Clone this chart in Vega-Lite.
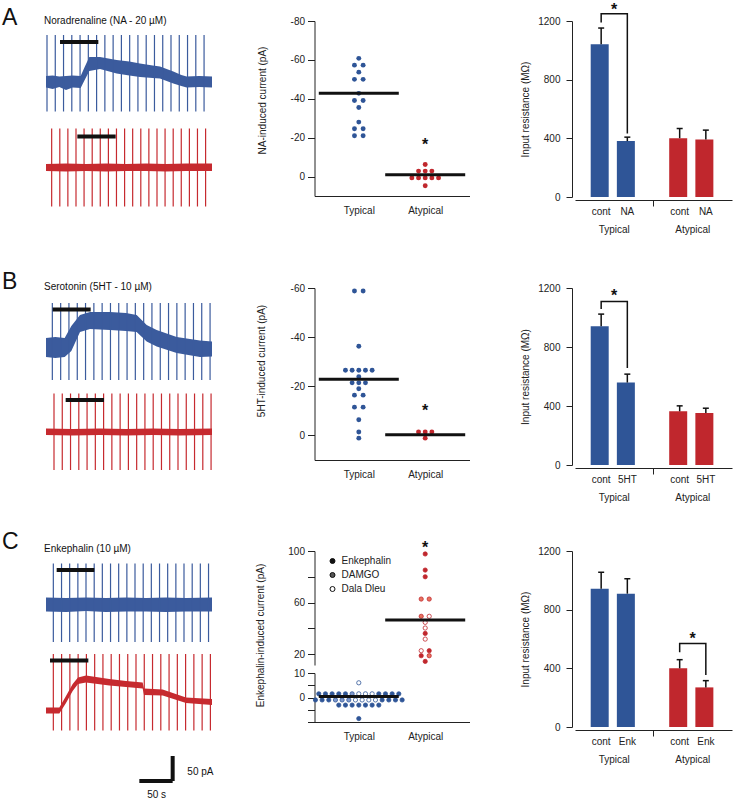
{
"$schema": "https://vega.github.io/schema/vega-lite/v6.json",
"autosize": {"type": "pad"},
"padding": {"left": 2, "top": 2, "right": 2, "bottom": 0},
"config": {
  "font": "Liberation Sans",
  "view": {"stroke": null},
  "axis": {"labelFont": "Liberation Sans", "titleFont": "Liberation Sans", "labelFontSize": 10, "titleFontSize": 10, "titleFontWeight": "normal", "labelColor": "#222", "titleColor": "#222", "domainColor": "#222", "tickColor": "#222", "grid": false},
  "title": {"font": "Liberation Sans", "fontWeight": "normal", "color": "#111"},
  "legend": {"labelFont": "Liberation Sans", "labelFontSize": 10, "labelColor": "#222"}
},
"datasets": {
  "bands": [
    {"tr":"A1","t":0,"hi":8,"lo":-15},{"tr":"A1","t":10,"hi":9,"lo":-18},{"tr":"A1","t":20,"hi":7,"lo":-14},{"tr":"A1","t":30,"hi":8,"lo":-20},{"tr":"A1","t":40,"hi":9,"lo":-15},{"tr":"A1","t":52,"hi":8,"lo":-16},{"tr":"A1","t":58,"hi":26,"lo":0},{"tr":"A1","t":65,"hi":46,"lo":18},{"tr":"A1","t":81,"hi":46,"lo":22},{"tr":"A1","t":106,"hi":40,"lo":13},{"tr":"A1","t":125,"hi":37,"lo":9},{"tr":"A1","t":141,"hi":33,"lo":6},{"tr":"A1","t":160,"hi":29,"lo":4},{"tr":"A1","t":171,"hi":27,"lo":3},{"tr":"A1","t":191,"hi":17,"lo":-7},{"tr":"A1","t":203,"hi":10,"lo":-12},{"tr":"A1","t":211,"hi":7,"lo":-15},{"tr":"A1","t":230,"hi":8,"lo":-14},{"tr":"A1","t":249,"hi":7,"lo":-15},
    {"tr":"A2","t":0,"hi":6,"lo":-8},{"tr":"A2","t":30,"hi":7,"lo":-9},{"tr":"A2","t":60,"hi":6,"lo":-8},{"tr":"A2","t":90,"hi":7,"lo":-9},{"tr":"A2","t":120,"hi":6,"lo":-8},{"tr":"A2","t":150,"hi":7,"lo":-8},{"tr":"A2","t":180,"hi":6,"lo":-9},{"tr":"A2","t":210,"hi":7,"lo":-8},{"tr":"A2","t":249,"hi":7,"lo":-8},
    {"tr":"B1","t":0,"hi":20,"lo":-18},{"tr":"B1","t":14,"hi":22,"lo":-20},{"tr":"B1","t":28,"hi":20,"lo":-18},{"tr":"B1","t":38,"hi":44,"lo":-6},{"tr":"B1","t":51,"hi":66,"lo":32},{"tr":"B1","t":66,"hi":72,"lo":38},{"tr":"B1","t":96,"hi":72,"lo":36},{"tr":"B1","t":120,"hi":70,"lo":34},{"tr":"B1","t":136,"hi":66,"lo":32},{"tr":"B1","t":151,"hi":46,"lo":13},{"tr":"B1","t":166,"hi":36,"lo":3},{"tr":"B1","t":196,"hi":22,"lo":-10},{"tr":"B1","t":231,"hi":15,"lo":-18},{"tr":"B1","t":249,"hi":13,"lo":-17},
    {"tr":"B2","t":0,"hi":7,"lo":-6},{"tr":"B2","t":40,"hi":6,"lo":-7},{"tr":"B2","t":80,"hi":7,"lo":-6},{"tr":"B2","t":120,"hi":6,"lo":-7},{"tr":"B2","t":160,"hi":7,"lo":-6},{"tr":"B2","t":200,"hi":6,"lo":-7},{"tr":"B2","t":249,"hi":7,"lo":-6},
    {"tr":"C1","t":0,"hi":14,"lo":-14},{"tr":"C1","t":30,"hi":13,"lo":-15},{"tr":"C1","t":60,"hi":14,"lo":-13},{"tr":"C1","t":90,"hi":13,"lo":-15},{"tr":"C1","t":120,"hi":14,"lo":-14},{"tr":"C1","t":150,"hi":13,"lo":-14},{"tr":"C1","t":180,"hi":14,"lo":-15},{"tr":"C1","t":210,"hi":13,"lo":-14},{"tr":"C1","t":249,"hi":14,"lo":-14},
    {"tr":"C2","t":0,"hi":5,"lo":-7},{"tr":"C2","t":20,"hi":5,"lo":-7},{"tr":"C2","t":30,"hi":28,"lo":14},{"tr":"C2","t":40,"hi":52,"lo":38},{"tr":"C2","t":48,"hi":65,"lo":52},{"tr":"C2","t":60,"hi":69,"lo":55},{"tr":"C2","t":95,"hi":62,"lo":49},{"tr":"C2","t":120,"hi":58,"lo":46},{"tr":"C2","t":145,"hi":55,"lo":43},{"tr":"C2","t":147,"hi":43,"lo":30},{"tr":"C2","t":175,"hi":41,"lo":29},{"tr":"C2","t":210,"hi":25,"lo":14},{"tr":"C2","t":249,"hi":22,"lo":10}
  ],
  "spikes": [
    {"tr":"A1","t":1.5,"hi":90,"lo":-63},{"tr":"A1","t":13.9,"hi":90,"lo":-63},{"tr":"A1","t":26.3,"hi":90,"lo":-63},{"tr":"A1","t":38.7,"hi":90,"lo":-63},{"tr":"A1","t":51.1,"hi":90,"lo":-63},{"tr":"A1","t":63.5,"hi":90,"lo":-63},{"tr":"A1","t":75.9,"hi":90,"lo":-63},{"tr":"A1","t":88.3,"hi":90,"lo":-63},{"tr":"A1","t":100.7,"hi":90,"lo":-63},{"tr":"A1","t":113.1,"hi":90,"lo":-63},{"tr":"A1","t":125.5,"hi":90,"lo":-63},{"tr":"A1","t":137.9,"hi":90,"lo":-63},{"tr":"A1","t":150.3,"hi":90,"lo":-63},{"tr":"A1","t":162.7,"hi":90,"lo":-63},{"tr":"A1","t":175.1,"hi":90,"lo":-63},{"tr":"A1","t":187.5,"hi":90,"lo":-63},{"tr":"A1","t":199.9,"hi":90,"lo":-63},{"tr":"A1","t":212.3,"hi":90,"lo":-63},{"tr":"A1","t":224.7,"hi":90,"lo":-63},{"tr":"A1","t":237.1,"hi":90,"lo":-63},
    {"tr":"A2","t":8.5,"hi":77,"lo":-79},{"tr":"A2","t":20.7,"hi":77,"lo":-79},{"tr":"A2","t":32.8,"hi":77,"lo":-79},{"tr":"A2","t":45,"hi":77,"lo":-79},{"tr":"A2","t":57.1,"hi":77,"lo":-79},{"tr":"A2","t":69.3,"hi":77,"lo":-79},{"tr":"A2","t":81.4,"hi":77,"lo":-79},{"tr":"A2","t":93.6,"hi":77,"lo":-79},{"tr":"A2","t":105.7,"hi":77,"lo":-79},{"tr":"A2","t":117.9,"hi":77,"lo":-79},{"tr":"A2","t":130,"hi":77,"lo":-79},{"tr":"A2","t":142.2,"hi":77,"lo":-79},{"tr":"A2","t":154.3,"hi":77,"lo":-79},{"tr":"A2","t":166.5,"hi":77,"lo":-79},{"tr":"A2","t":178.6,"hi":77,"lo":-79},{"tr":"A2","t":190.8,"hi":77,"lo":-79},{"tr":"A2","t":202.9,"hi":77,"lo":-79},{"tr":"A2","t":215.1,"hi":77,"lo":-79},{"tr":"A2","t":227.2,"hi":77,"lo":-79},{"tr":"A2","t":239.4,"hi":77,"lo":-79},
    {"tr":"B1","t":9.5,"hi":90,"lo":-64},{"tr":"B1","t":22,"hi":90,"lo":-64},{"tr":"B1","t":34.4,"hi":90,"lo":-64},{"tr":"B1","t":46.9,"hi":90,"lo":-64},{"tr":"B1","t":59.3,"hi":90,"lo":-64},{"tr":"B1","t":71.8,"hi":90,"lo":-64},{"tr":"B1","t":84.2,"hi":90,"lo":-64},{"tr":"B1","t":96.7,"hi":90,"lo":-64},{"tr":"B1","t":109.1,"hi":90,"lo":-64},{"tr":"B1","t":121.6,"hi":90,"lo":-64},{"tr":"B1","t":134,"hi":90,"lo":-64},{"tr":"B1","t":146.5,"hi":90,"lo":-64},{"tr":"B1","t":158.9,"hi":90,"lo":-64},{"tr":"B1","t":171.4,"hi":90,"lo":-64},{"tr":"B1","t":183.8,"hi":90,"lo":-64},{"tr":"B1","t":196.3,"hi":90,"lo":-64},{"tr":"B1","t":208.7,"hi":90,"lo":-64},{"tr":"B1","t":221.2,"hi":90,"lo":-64},{"tr":"B1","t":233.6,"hi":90,"lo":-64},{"tr":"B1","t":246.1,"hi":90,"lo":-64},
    {"tr":"B2","t":12,"hi":77,"lo":-76},{"tr":"B2","t":24.4,"hi":77,"lo":-76},{"tr":"B2","t":36.8,"hi":77,"lo":-76},{"tr":"B2","t":49.2,"hi":77,"lo":-76},{"tr":"B2","t":61.6,"hi":77,"lo":-76},{"tr":"B2","t":74,"hi":77,"lo":-76},{"tr":"B2","t":86.4,"hi":77,"lo":-76},{"tr":"B2","t":98.8,"hi":77,"lo":-76},{"tr":"B2","t":111.2,"hi":77,"lo":-76},{"tr":"B2","t":123.6,"hi":77,"lo":-76},{"tr":"B2","t":136,"hi":77,"lo":-76},{"tr":"B2","t":148.4,"hi":77,"lo":-76},{"tr":"B2","t":160.8,"hi":77,"lo":-76},{"tr":"B2","t":173.2,"hi":77,"lo":-76},{"tr":"B2","t":185.6,"hi":77,"lo":-76},{"tr":"B2","t":198,"hi":77,"lo":-76},{"tr":"B2","t":210.4,"hi":77,"lo":-76},{"tr":"B2","t":222.8,"hi":77,"lo":-76},{"tr":"B2","t":235.2,"hi":77,"lo":-76},{"tr":"B2","t":247.6,"hi":77,"lo":-76},
    {"tr":"C1","t":11,"hi":82,"lo":-75},{"tr":"C1","t":23.3,"hi":82,"lo":-75},{"tr":"C1","t":35.5,"hi":82,"lo":-75},{"tr":"C1","t":47.8,"hi":82,"lo":-75},{"tr":"C1","t":60,"hi":82,"lo":-75},{"tr":"C1","t":72.3,"hi":82,"lo":-75},{"tr":"C1","t":84.5,"hi":82,"lo":-75},{"tr":"C1","t":96.8,"hi":82,"lo":-75},{"tr":"C1","t":109,"hi":82,"lo":-75},{"tr":"C1","t":121.3,"hi":82,"lo":-75},{"tr":"C1","t":133.5,"hi":82,"lo":-75},{"tr":"C1","t":145.8,"hi":82,"lo":-75},{"tr":"C1","t":158,"hi":82,"lo":-75},{"tr":"C1","t":170.3,"hi":82,"lo":-75},{"tr":"C1","t":182.5,"hi":82,"lo":-75},{"tr":"C1","t":194.8,"hi":82,"lo":-75},{"tr":"C1","t":207,"hi":82,"lo":-75},{"tr":"C1","t":219.3,"hi":82,"lo":-75},{"tr":"C1","t":231.5,"hi":82,"lo":-75},{"tr":"C1","t":243.8,"hi":82,"lo":-75},
    {"tr":"C2","t":11,"hi":112,"lo":-41},{"tr":"C2","t":23.4,"hi":112,"lo":-41},{"tr":"C2","t":35.8,"hi":112,"lo":-41},{"tr":"C2","t":48.2,"hi":112,"lo":-41},{"tr":"C2","t":60.6,"hi":112,"lo":-41},{"tr":"C2","t":73,"hi":112,"lo":-41},{"tr":"C2","t":85.4,"hi":112,"lo":-41},{"tr":"C2","t":97.8,"hi":112,"lo":-41},{"tr":"C2","t":110.2,"hi":112,"lo":-41},{"tr":"C2","t":122.6,"hi":112,"lo":-41},{"tr":"C2","t":135,"hi":112,"lo":-41},{"tr":"C2","t":147.4,"hi":112,"lo":-41},{"tr":"C2","t":159.8,"hi":112,"lo":-41},{"tr":"C2","t":172.2,"hi":112,"lo":-41},{"tr":"C2","t":184.6,"hi":112,"lo":-41},{"tr":"C2","t":197,"hi":112,"lo":-41},{"tr":"C2","t":209.4,"hi":112,"lo":-41},{"tr":"C2","t":221.8,"hi":112,"lo":-41},{"tr":"C2","t":234.2,"hi":112,"lo":-41},{"tr":"C2","t":246.6,"hi":112,"lo":-41}
  ],
  "drug": [
    {"tr":"A1","t1":21,"t2":78.5},{"tr":"A2","t1":47,"t2":104.5},
    {"tr":"B1","t1":10,"t2":67},{"tr":"B2","t1":29.5,"t2":87},
    {"tr":"C1","t1":16,"t2":72.5},{"tr":"C2","t1":6,"t2":63.5}
  ],
  "scatA": [
    {"g":"Typical","v":-60.8,"s":0},{"g":"Typical","v":-57.3,"s":-0.65},{"g":"Typical","v":-57.3,"s":0.65},{"g":"Typical","v":-53.7,"s":0},{"g":"Typical","v":-50,"s":-0.65},{"g":"Typical","v":-50,"s":0.65},{"g":"Typical","v":-42.8,"s":0},{"g":"Typical","v":-39.1,"s":-0.65},{"g":"Typical","v":-39.1,"s":0.65},{"g":"Typical","v":-35.5,"s":0},{"g":"Typical","v":-28,"s":0},{"g":"Typical","v":-24.6,"s":-0.65},{"g":"Typical","v":-24.6,"s":0.65},{"g":"Typical","v":-21,"s":-0.65},{"g":"Typical","v":-21,"s":0.65},
    {"g":"Atypical","v":-6.2,"s":0},{"g":"Atypical","v":-2.8,"s":-1},{"g":"Atypical","v":-2.8,"s":0},{"g":"Atypical","v":-2.8,"s":1},{"g":"Atypical","v":0.7,"s":-2},{"g":"Atypical","v":0.7,"s":-1},{"g":"Atypical","v":0.7,"s":0},{"g":"Atypical","v":0.7,"s":1},{"g":"Atypical","v":0.7,"s":2},{"g":"Atypical","v":4.7,"s":0}
  ],
  "scatB": [
    {"g":"Typical","v":-58.8,"s":-0.65},{"g":"Typical","v":-58.8,"s":0.65},{"g":"Typical","v":-36.3,"s":0},{"g":"Typical","v":-26.5,"s":-2},{"g":"Typical","v":-26.5,"s":-1},{"g":"Typical","v":-26.5,"s":0},{"g":"Typical","v":-26.5,"s":1},{"g":"Typical","v":-26.5,"s":2},{"g":"Typical","v":-23.9,"s":0},{"g":"Typical","v":-21.4,"s":-1},{"g":"Typical","v":-21.4,"s":0},{"g":"Typical","v":-21.4,"s":1},{"g":"Typical","v":-19,"s":0},{"g":"Typical","v":-16.4,"s":-0.65},{"g":"Typical","v":-16.4,"s":0.65},{"g":"Typical","v":-11.5,"s":-0.65},{"g":"Typical","v":-11.5,"s":0.65},{"g":"Typical","v":-6.4,"s":0},{"g":"Typical","v":-1.4,"s":0},{"g":"Typical","v":1.1,"s":0},
    {"g":"Atypical","v":-1.4,"s":-1},{"g":"Atypical","v":-1.4,"s":0},{"g":"Atypical","v":-1.4,"s":1},{"g":"Atypical","v":1.1,"s":0}
  ],
  "scatCup": [
    {"g":"Atypical","v":97.7,"s":0,"ag":"Enkephalin"},{"g":"Atypical","v":85.2,"s":0,"ag":"Enkephalin"},{"g":"Atypical","v":80,"s":0,"ag":"Enkephalin"},{"g":"Atypical","v":62.7,"s":-0.6,"ag":"DAMGO"},{"g":"Atypical","v":62.7,"s":0.6,"ag":"DAMGO"},{"g":"Atypical","v":49.3,"s":-0.6,"ag":"DAMGO"},{"g":"Atypical","v":49.3,"s":0.6,"ag":"Dala Dleu"},{"g":"Atypical","v":44.6,"s":0,"ag":"Dala Dleu"},{"g":"Atypical","v":40.2,"s":0,"ag":"Dala Dleu"},{"g":"Atypical","v":36,"s":0,"ag":"Enkephalin"},{"g":"Atypical","v":31.6,"s":0,"ag":"Dala Dleu"},{"g":"Atypical","v":22.6,"s":-0.6,"ag":"Dala Dleu"},{"g":"Atypical","v":22.6,"s":0.6,"ag":"Enkephalin"},{"g":"Atypical","v":18.7,"s":-0.6,"ag":"Enkephalin"},{"g":"Atypical","v":18.7,"s":0.6,"ag":"DAMGO"},{"g":"Atypical","v":14.3,"s":0,"ag":"Enkephalin"}
  ],
  "scatClo": [
    {"g":"Typical","v":6,"s":0,"ag":"Dala Dleu"},
    {"g":"Typical","v":1.5,"s":-6,"ag":"Enkephalin"},{"g":"Typical","v":1.5,"s":-5,"ag":"Enkephalin"},{"g":"Typical","v":1.5,"s":-4,"ag":"Enkephalin"},{"g":"Typical","v":1.5,"s":-3,"ag":"Enkephalin"},{"g":"Typical","v":1.5,"s":-2,"ag":"Enkephalin"},{"g":"Typical","v":1.5,"s":-1,"ag":"DAMGO"},{"g":"Typical","v":1.5,"s":0,"ag":"Dala Dleu"},{"g":"Typical","v":1.5,"s":1,"ag":"Dala Dleu"},{"g":"Typical","v":1.5,"s":2,"ag":"Dala Dleu"},{"g":"Typical","v":1.5,"s":3,"ag":"Enkephalin"},{"g":"Typical","v":1.5,"s":4,"ag":"Enkephalin"},{"g":"Typical","v":1.5,"s":5,"ag":"Enkephalin"},{"g":"Typical","v":1.5,"s":6,"ag":"Enkephalin"},
    {"g":"Typical","v":-1,"s":-6.5,"ag":"Enkephalin"},{"g":"Typical","v":-1,"s":-5.5,"ag":"Enkephalin"},{"g":"Typical","v":-1,"s":-4.5,"ag":"Enkephalin"},{"g":"Typical","v":-1,"s":-3.5,"ag":"DAMGO"},{"g":"Typical","v":-1,"s":-2.5,"ag":"DAMGO"},{"g":"Typical","v":-1,"s":-1.5,"ag":"DAMGO"},{"g":"Typical","v":-1,"s":-0.5,"ag":"Dala Dleu"},{"g":"Typical","v":-1,"s":0.5,"ag":"Dala Dleu"},{"g":"Typical","v":-1,"s":1.5,"ag":"Dala Dleu"},{"g":"Typical","v":-1,"s":2.5,"ag":"Dala Dleu"},{"g":"Typical","v":-1,"s":3.5,"ag":"Enkephalin"},{"g":"Typical","v":-1,"s":4.5,"ag":"Enkephalin"},{"g":"Typical","v":-1,"s":5.5,"ag":"Enkephalin"},{"g":"Typical","v":-1,"s":6.5,"ag":"Enkephalin"},
    {"g":"Typical","v":-3.1,"s":-3,"ag":"Enkephalin"},{"g":"Typical","v":-3.1,"s":-2,"ag":"Enkephalin"},{"g":"Typical","v":-3.1,"s":-1,"ag":"Enkephalin"},{"g":"Typical","v":-3.1,"s":0,"ag":"Enkephalin"},{"g":"Typical","v":-3.1,"s":1,"ag":"Enkephalin"},{"g":"Typical","v":-3.1,"s":2,"ag":"Enkephalin"},{"g":"Typical","v":-3.1,"s":3,"ag":"Enkephalin"},
    {"g":"Typical","v":-8.6,"s":0,"ag":"Enkephalin"}
  ],
  "barsA": [
    {"k":"Typical|cont","grp":"Typical","m":1041,"hi":1152},{"k":"Typical|NA","grp":"Typical","m":381,"hi":408},{"k":"Atypical|cont","grp":"Atypical","m":401,"hi":467},{"k":"Atypical|NA","grp":"Atypical","m":392,"hi":456}
  ],
  "barsB": [
    {"k":"Typical|cont","grp":"Typical","m":940,"hi":1023},{"k":"Typical|5HT","grp":"Typical","m":559,"hi":616},{"k":"Atypical|cont","grp":"Atypical","m":364,"hi":401},{"k":"Atypical|5HT","grp":"Atypical","m":353,"hi":385}
  ],
  "barsC": [
    {"k":"Typical|cont","grp":"Typical","m":943,"hi":1055},{"k":"Typical|Enk","grp":"Typical","m":909,"hi":1011},{"k":"Atypical|cont","grp":"Atypical","m":400,"hi":459},{"k":"Atypical|Enk","grp":"Atypical","m":270,"hi":316}
  ]
},
"columns": 3,
"spacing": {"row": 81, "column": 102.5},
"bounds": "flush",
"align": "each",
"concat": [
 {
  "width": 166, "height": 186,
  "title": {"text": "Noradrenaline (NA - 20 µM)", "anchor": "start", "frame": "group", "fontSize": 10, "offset": -12.5, "dx": -2, "baseline": "alphabetic"},
  "resolve": {"scale": {"y": "independent"}},
  "layer": [
   {"layer": [
     {"data": {"name": "bands"}, "transform": [{"filter": "datum.tr == 'A1'"}], "mark": {"type": "area", "color": "#3b5b9d"}, "encoding": {"x": {"field": "t", "type": "quantitative", "scale": {"domain": [0, 249], "nice": false}, "axis": null}, "y": {"field": "hi", "type": "quantitative", "scale": {"domain": [-64, 118], "range": [91, 0], "nice": false}, "axis": null}, "y2": {"field": "lo"}}},
     {"data": {"name": "spikes"}, "transform": [{"filter": "datum.tr == 'A1'"}], "mark": {"type": "rule", "color": "#3b5b9d", "strokeWidth": 1.2}, "encoding": {"x": {"field": "t", "type": "quantitative", "axis": null}, "y": {"field": "hi", "type": "quantitative", "axis": null}, "y2": {"field": "lo"}}},
     {"data": {"name": "drug"}, "transform": [{"filter": "datum.tr == 'A1'"}], "mark": {"type": "rule", "color": "#111", "strokeWidth": 4}, "encoding": {"x": {"field": "t1", "type": "quantitative", "axis": null}, "x2": {"field": "t2"}, "y": {"datum": 76, "type": "quantitative", "axis": null}}}
   ]},
   {"layer": [
     {"data": {"name": "bands"}, "transform": [{"filter": "datum.tr == 'A2'"}], "mark": {"type": "area", "color": "#c62a2f"}, "encoding": {"x": {"field": "t", "type": "quantitative", "axis": null}, "y": {"field": "hi", "type": "quantitative", "scale": {"domain": [-80, 98], "range": [186, 97], "nice": false}, "axis": null}, "y2": {"field": "lo"}}},
     {"data": {"name": "spikes"}, "transform": [{"filter": "datum.tr == 'A2'"}], "mark": {"type": "rule", "color": "#c62a2f", "strokeWidth": 1.2}, "encoding": {"x": {"field": "t", "type": "quantitative", "axis": null}, "y": {"field": "hi", "type": "quantitative", "axis": null}, "y2": {"field": "lo"}}},
     {"data": {"name": "drug"}, "transform": [{"filter": "datum.tr == 'A2'"}], "mark": {"type": "rule", "color": "#111", "strokeWidth": 4}, "encoding": {"x": {"field": "t1", "type": "quantitative", "axis": null}, "x2": {"field": "t2"}, "y": {"datum": 61, "type": "quantitative", "axis": null}}}
   ]}
  ]
 },
 {
  "width": 155, "height": 175,
  "title": {"text": "A", "anchor": "start", "frame": "group", "fontSize": 23, "dx": -312.5, "offset": -32, "baseline": "alphabetic"},
  "layer": [
   {"data": {"name": "scatA"}, "mark": {"type": "point", "filled": true, "size": 24, "opacity": 1},
    "encoding": {
     "x": {"field": "g", "type": "nominal", "scale": {"type": "point", "domain": ["Typical", "Atypical"], "padding": 0.667}, "axis": {"title": null, "labelAngle": 0, "ticks": false, "labelPadding": 9}},
     "xOffset": {"field": "s", "type": "quantitative", "scale": {"domain": [-1, 1], "range": [-6.67, 6.67]}},
     "y": {"field": "v", "type": "quantitative", "scale": {"domain": [-80, 10], "reverse": true, "nice": false, "zero": false}, "axis": {"title": "NA-induced current (pA)", "values": [-80,-75,-70,-65,-60,-55,-50,-45,-40,-35,-30,-25,-20,-15,-10,-5,0,5,10], "labelExpr": "datum.value % 20 == 0 ? toString(datum.value) : ''", "tickSize": 7, "labelPadding": 3, "titleX": -52.5, "titleY": 79, "titleBaseline": "middle"}},
     "color": {"field": "g", "type": "nominal", "scale": {"domain": ["Typical", "Atypical"], "range": ["#2f5597", "#c0272d"]}, "legend": null}
    }},
   {"data": {"values": [{"g": "Typical", "v": -42.8}, {"g": "Atypical", "v": -0.9}]}, "mark": {"type": "tick", "color": "#111", "size": 80, "thickness": 3, "opacity": 1}, "encoding": {"x": {"field": "g", "type": "nominal"}, "y": {"field": "v", "type": "quantitative"}}},
   {"data": {"values": [{"g": "Atypical", "v": -18.7}]}, "mark": {"type": "text", "text": "*", "fontSize": 16, "fontWeight": "bold", "baseline": "middle", "dy": 5, "color": "#111"}, "encoding": {"x": {"field": "g", "type": "nominal"}, "y": {"field": "v", "type": "quantitative"}}}
  ]
 },
 {
  "width": 160, "height": 176,
  "data": {"name": "barsA"},
  "resolve": {"axis": {"x": "independent"}},
  "layer": [
   {"mark": {"type": "bar"}, "encoding": {
     "x": {"field": "k", "type": "nominal", "scale": {"type": "band", "domain": ["Typical|cont", "Typical|NA", "gap", "Atypical|cont", "Atypical|NA"], "range": [3, 160], "paddingInner": 0.2, "paddingOuter": 0.6}, "axis": {"orient": "bottom", "title": null, "labelAngle": 0, "offset": 3, "tickSize": 6, "tickOpacity": {"condition": {"test": "datum.value == 'gap'", "value": 1}, "value": 0}, "labelPadding": 0, "labelExpr": "datum.value == 'gap' ? '' : split(datum.value, '|')[1]"}},
     "y": {"field": "m", "type": "quantitative", "scale": {"domain": [0, 1200], "nice": false}, "axis": {"title": "Input resistance (MΩ)", "values": [0,50,100,150,200,250,300,350,400,450,500,550,600,650,700,750,800,850,900,950,1000,1050,1100,1150,1200], "labelExpr": "datum.value % 400 == 0 ? toString(datum.value) : ''", "tickSize": 6, "labelPadding": 6, "titleX": -47, "titleBaseline": "middle"}},
     "color": {"field": "grp", "type": "nominal", "scale": {"domain": ["Typical", "Atypical"], "range": ["#2d4e8c", "#b22329"]}, "legend": null}}},
   {"mark": {"type": "rule", "color": "#111", "strokeWidth": 1.5}, "encoding": {
     "x": {"field": "k", "type": "nominal", "axis": {"orient": "bottom", "title": null, "labelAngle": 0, "offset": 3, "ticks": false, "domain": false, "labelPadding": 24, "labelOffset": 13.1, "labelExpr": "datum.value == 'Typical|cont' ? 'Typical' : datum.value == 'Atypical|cont' ? 'Atypical' : ''"}},
     "y": {"field": "m", "type": "quantitative"}, "y2": {"field": "hi"}}},
   {"mark": {"type": "tick", "color": "#111", "thickness": 1.5, "size": 6, "opacity": 1}, "encoding": {"x": {"field": "k", "type": "nominal", "axis": null}, "y": {"field": "hi", "type": "quantitative"}}},
   {"data": {"values": [{"k": "Typical|cont", "y": 1189, "o": 1}, {"k": "Typical|cont", "y": 1250, "o": 2}, {"k": "Typical|NA", "y": 1250, "o": 3}, {"k": "Typical|NA", "y": 433, "o": 4}]}, "mark": {"type": "line", "color": "#111", "strokeWidth": 1.5}, "encoding": {"x": {"field": "k", "type": "nominal", "axis": null}, "y": {"field": "y", "type": "quantitative"}, "order": {"field": "o", "type": "quantitative"}}},
   {"data": {"values": [{"k": "Typical|cont", "y": 1307}]}, "mark": {"type": "text", "text": "*", "fontSize": 16, "fontWeight": "bold", "baseline": "middle", "dx": 13, "dy": 5, "color": "#111"}, "encoding": {"x": {"field": "k", "type": "nominal", "axis": null}, "y": {"field": "y", "type": "quantitative"}}}
  ]
 },
 {
  "width": 166, "height": 182,
  "title": {"text": "Serotonin (5HT - 10 µM)", "anchor": "start", "frame": "group", "fontSize": 10, "offset": -11.5, "dx": -2, "baseline": "alphabetic"},
  "resolve": {"scale": {"y": "independent"}},
  "layer": [
   {"layer": [
     {"data": {"name": "bands"}, "transform": [{"filter": "datum.tr == 'B1'"}], "mark": {"type": "area", "color": "#3b5b9d"}, "encoding": {"x": {"field": "t", "type": "quantitative", "scale": {"domain": [0, 249], "nice": false}, "axis": null}, "y": {"field": "hi", "type": "quantitative", "scale": {"domain": [-64, 120], "range": [92, 0], "nice": false}, "axis": null}, "y2": {"field": "lo"}}},
     {"data": {"name": "spikes"}, "transform": [{"filter": "datum.tr == 'B1'"}], "mark": {"type": "rule", "color": "#3b5b9d", "strokeWidth": 1.2}, "encoding": {"x": {"field": "t", "type": "quantitative", "axis": null}, "y": {"field": "hi", "type": "quantitative", "axis": null}, "y2": {"field": "lo"}}},
     {"data": {"name": "drug"}, "transform": [{"filter": "datum.tr == 'B1'"}], "mark": {"type": "rule", "color": "#111", "strokeWidth": 4}, "encoding": {"x": {"field": "t1", "type": "quantitative", "axis": null}, "x2": {"field": "t2"}, "y": {"datum": 77, "type": "quantitative", "axis": null}}}
   ]},
   {"layer": [
     {"data": {"name": "bands"}, "transform": [{"filter": "datum.tr == 'B2'"}], "mark": {"type": "area", "color": "#c62a2f"}, "encoding": {"x": {"field": "t", "type": "quantitative", "axis": null}, "y": {"field": "hi", "type": "quantitative", "scale": {"domain": [-76, 92], "range": [182, 98], "nice": false}, "axis": null}, "y2": {"field": "lo"}}},
     {"data": {"name": "spikes"}, "transform": [{"filter": "datum.tr == 'B2'"}], "mark": {"type": "rule", "color": "#c62a2f", "strokeWidth": 1.2}, "encoding": {"x": {"field": "t", "type": "quantitative", "axis": null}, "y": {"field": "hi", "type": "quantitative", "axis": null}, "y2": {"field": "lo"}}},
     {"data": {"name": "drug"}, "transform": [{"filter": "datum.tr == 'B2'"}], "mark": {"type": "rule", "color": "#111", "strokeWidth": 4}, "encoding": {"x": {"field": "t1", "type": "quantitative", "axis": null}, "x2": {"field": "t2"}, "y": {"datum": 64, "type": "quantitative", "axis": null}}}
   ]}
  ]
 },
 {
  "width": 155, "height": 172,
  "title": {"text": "B", "anchor": "start", "frame": "group", "fontSize": 23, "dx": -312.5, "offset": -29, "baseline": "alphabetic"},
  "layer": [
   {"data": {"name": "scatB"}, "mark": {"type": "point", "filled": true, "size": 24, "opacity": 1},
    "encoding": {
     "x": {"field": "g", "type": "nominal", "scale": {"type": "point", "domain": ["Typical", "Atypical"], "padding": 0.667}, "axis": {"title": null, "labelAngle": 0, "ticks": false, "labelPadding": 9}},
     "xOffset": {"field": "s", "type": "quantitative", "scale": {"domain": [-1, 1], "range": [-6.67, 6.67]}},
     "y": {"field": "v", "type": "quantitative", "scale": {"domain": [-60, 10], "reverse": true, "nice": false, "zero": false}, "axis": {"title": "5HT-induced current (pA)", "values": [-60,-55,-50,-45,-40,-35,-30,-25,-20,-15,-10,-5,0,5,10], "labelExpr": "datum.value % 20 == 0 ? toString(datum.value) : ''", "tickSize": 7, "labelPadding": 3, "titleX": -52.8, "titleY": 72.5, "titleBaseline": "middle"}},
     "color": {"field": "g", "type": "nominal", "scale": {"domain": ["Typical", "Atypical"], "range": ["#2f5597", "#c0272d"]}, "legend": null}
    }},
   {"data": {"values": [{"g": "Typical", "v": -22.9}, {"g": "Atypical", "v": -0.3}]}, "mark": {"type": "tick", "color": "#111", "size": 80, "thickness": 3, "opacity": 1}, "encoding": {"x": {"field": "g", "type": "nominal"}, "y": {"field": "v", "type": "quantitative"}}},
   {"data": {"values": [{"g": "Atypical", "v": -11.9}]}, "mark": {"type": "text", "text": "*", "fontSize": 16, "fontWeight": "bold", "baseline": "middle", "dy": 5, "color": "#111"}, "encoding": {"x": {"field": "g", "type": "nominal"}, "y": {"field": "v", "type": "quantitative"}}}
  ]
 },
 {
  "width": 160, "height": 177,
  "data": {"name": "barsB"},
  "resolve": {"axis": {"x": "independent"}},
  "layer": [
   {"mark": {"type": "bar"}, "encoding": {
     "x": {"field": "k", "type": "nominal", "scale": {"type": "band", "domain": ["Typical|cont", "Typical|5HT", "gap", "Atypical|cont", "Atypical|5HT"], "range": [3, 160], "paddingInner": 0.2, "paddingOuter": 0.6}, "axis": {"orient": "bottom", "title": null, "labelAngle": 0, "offset": 3, "tickSize": 6, "tickOpacity": {"condition": {"test": "datum.value == 'gap'", "value": 1}, "value": 0}, "labelPadding": 0, "labelExpr": "datum.value == 'gap' ? '' : split(datum.value, '|')[1]"}},
     "y": {"field": "m", "type": "quantitative", "scale": {"domain": [0, 1200], "nice": false}, "axis": {"title": "Input resistance (MΩ)", "values": [0,50,100,150,200,250,300,350,400,450,500,550,600,650,700,750,800,850,900,950,1000,1050,1100,1150,1200], "labelExpr": "datum.value % 400 == 0 ? toString(datum.value) : ''", "tickSize": 6, "labelPadding": 6, "titleX": -47, "titleBaseline": "middle"}},
     "color": {"field": "grp", "type": "nominal", "scale": {"domain": ["Typical", "Atypical"], "range": ["#2d4e8c", "#b22329"]}, "legend": null}}},
   {"mark": {"type": "rule", "color": "#111", "strokeWidth": 1.5}, "encoding": {
     "x": {"field": "k", "type": "nominal", "axis": {"orient": "bottom", "title": null, "labelAngle": 0, "offset": 3, "ticks": false, "domain": false, "labelPadding": 24, "labelOffset": 13.1, "labelExpr": "datum.value == 'Typical|cont' ? 'Typical' : datum.value == 'Atypical|cont' ? 'Atypical' : ''"}},
     "y": {"field": "m", "type": "quantitative"}, "y2": {"field": "hi"}}},
   {"mark": {"type": "tick", "color": "#111", "thickness": 1.5, "size": 6, "opacity": 1}, "encoding": {"x": {"field": "k", "type": "nominal", "axis": null}, "y": {"field": "hi", "type": "quantitative"}}},
   {"data": {"values": [{"k": "Typical|cont", "y": 1057, "o": 1}, {"k": "Typical|cont", "y": 1109, "o": 2}, {"k": "Typical|5HT", "y": 1109, "o": 3}, {"k": "Typical|5HT", "y": 657, "o": 4}]}, "mark": {"type": "line", "color": "#111", "strokeWidth": 1.5}, "encoding": {"x": {"field": "k", "type": "nominal", "axis": null}, "y": {"field": "y", "type": "quantitative"}, "order": {"field": "o", "type": "quantitative"}}},
   {"data": {"values": [{"k": "Typical|cont", "y": 1177}]}, "mark": {"type": "text", "text": "*", "fontSize": 16, "fontWeight": "bold", "baseline": "middle", "dx": 13, "dy": 5, "color": "#111"}, "encoding": {"x": {"field": "k", "type": "nominal", "axis": null}, "y": {"field": "y", "type": "quantitative"}}}
  ]
 },
 {
  "width": 166, "height": 180,
  "title": {"text": "Enkephalin (10 µM)", "anchor": "start", "frame": "group", "fontSize": 10, "offset": -11, "dx": -2, "baseline": "alphabetic"},
  "resolve": {"scale": {"y": "independent"}},
  "layer": [
   {"layer": [
     {"data": {"name": "bands"}, "transform": [{"filter": "datum.tr == 'C1'"}], "mark": {"type": "area", "color": "#3b5b9d"}, "encoding": {"x": {"field": "t", "type": "quantitative", "scale": {"domain": [0, 249], "nice": false}, "axis": null}, "y": {"field": "hi", "type": "quantitative", "scale": {"domain": [-75, 107], "range": [91, 0], "nice": false}, "axis": null}, "y2": {"field": "lo"}}},
     {"data": {"name": "spikes"}, "transform": [{"filter": "datum.tr == 'C1'"}], "mark": {"type": "rule", "color": "#3b5b9d", "strokeWidth": 1.2}, "encoding": {"x": {"field": "t", "type": "quantitative", "axis": null}, "y": {"field": "hi", "type": "quantitative", "axis": null}, "y2": {"field": "lo"}}},
     {"data": {"name": "drug"}, "transform": [{"filter": "datum.tr == 'C1'"}], "mark": {"type": "rule", "color": "#111", "strokeWidth": 4}, "encoding": {"x": {"field": "t1", "type": "quantitative", "axis": null}, "x2": {"field": "t2"}, "y": {"datum": 69, "type": "quantitative", "axis": null}}}
   ]},
   {"layer": [
     {"data": {"name": "bands"}, "transform": [{"filter": "datum.tr == 'C2'"}], "mark": {"type": "area", "color": "#c62a2f"}, "encoding": {"x": {"field": "t", "type": "quantitative", "axis": null}, "y": {"field": "hi", "type": "quantitative", "scale": {"domain": [-42, 124], "range": [180, 97], "nice": false}, "axis": null}, "y2": {"field": "lo"}}},
     {"data": {"name": "spikes"}, "transform": [{"filter": "datum.tr == 'C2'"}], "mark": {"type": "rule", "color": "#c62a2f", "strokeWidth": 1.2}, "encoding": {"x": {"field": "t", "type": "quantitative", "axis": null}, "y": {"field": "hi", "type": "quantitative", "axis": null}, "y2": {"field": "lo"}}},
     {"data": {"name": "drug"}, "transform": [{"filter": "datum.tr == 'C2'"}], "mark": {"type": "rule", "color": "#111", "strokeWidth": 4}, "encoding": {"x": {"field": "t1", "type": "quantitative", "axis": null}, "x2": {"field": "t2"}, "y": {"datum": 99, "type": "quantitative", "axis": null}}},
     {"data": {"values": [{"x1": 140, "x2": 190, "y1": -142, "y2": -142}, {"x1": 190, "x2": 190, "y1": -142, "y2": -92}]}, "mark": {"type": "rule", "color": "#111", "strokeWidth": 4}, "encoding": {"x": {"field": "x1", "type": "quantitative", "axis": null}, "x2": {"field": "x2"}, "y": {"field": "y1", "type": "quantitative", "axis": null}, "y2": {"field": "y2"}}},
     {"data": {"values": [{"t": 212, "y": -124, "label": "50 pA"}]}, "mark": {"type": "text", "align": "left", "baseline": "middle", "fontSize": 10, "color": "#111"}, "encoding": {"x": {"field": "t", "type": "quantitative", "axis": null}, "y": {"field": "y", "type": "quantitative", "axis": null}, "text": {"field": "label"}}},
     {"data": {"values": [{"t": 166, "y": -170, "label": "50 s"}]}, "mark": {"type": "text", "align": "center", "baseline": "middle", "fontSize": 10, "color": "#111"}, "encoding": {"x": {"field": "t", "type": "quantitative", "axis": null}, "y": {"field": "y", "type": "quantitative", "axis": null}, "text": {"field": "label"}}}
   ]}
  ]
 },
 {
  "width": 155, "height": 171,
  "title": {"text": "C", "anchor": "start", "frame": "group", "fontSize": 23, "dx": -312.5, "offset": -32, "baseline": "alphabetic"},
  "resolve": {"scale": {"y": "independent", "fill": "independent"}, "axis": {"y": "independent"}, "legend": {"fill": "independent"}},
  "layer": [
   {"layer": [
     {"data": {"name": "scatCup"}, "mark": {"type": "point", "filled": true, "size": 18, "opacity": 1, "stroke": "#c0272d", "strokeWidth": 0.8},
      "encoding": {
       "x": {"field": "g", "type": "nominal", "scale": {"type": "point", "domain": ["Typical", "Atypical"], "padding": 0.667}, "axis": {"title": null, "labelAngle": 0, "ticks": false, "labelPadding": 9}},
       "xOffset": {"field": "s", "type": "quantitative", "scale": {"domain": [-1, 1], "range": [-6.67, 6.67]}},
       "y": {"field": "v", "type": "quantitative", "scale": {"domain": [11.5, 100], "range": [114, 0], "nice": false, "zero": false}, "axis": {"orient": "left", "title": "Enkephalin-induced current (pA)", "values": [20,30,40,50,60,70,80,90,100], "labelExpr": "(datum.value - 20) % 40 == 0 ? toString(datum.value) : ''", "tickSize": 7, "labelPadding": 3, "titleX": -53.8, "titleY": 84, "titleBaseline": "middle"}},
       "fill": {"field": "ag", "type": "nominal", "scale": {"domain": ["Enkephalin", "DAMGO", "Dala Dleu"], "range": ["#c0272d", "#e8735e", "#ffffff"]}, "legend": null}
      }},
     {"data": {"values": [{"g": "Atypical", "v": 46.4}]}, "mark": {"type": "tick", "color": "#111", "size": 80, "thickness": 3, "opacity": 1}, "encoding": {"x": {"field": "g", "type": "nominal"}, "y": {"field": "v", "type": "quantitative"}}},
     {"data": {"values": [{"g": "Atypical", "v": 106}]}, "mark": {"type": "text", "text": "*", "fontSize": 16, "fontWeight": "bold", "baseline": "middle", "dy": 5, "color": "#111"}, "encoding": {"x": {"field": "g", "type": "nominal"}, "y": {"field": "v", "type": "quantitative"}}}
   ]},
   {"layer": [
     {"data": {"name": "scatClo"}, "mark": {"type": "point", "filled": true, "size": 18, "opacity": 1, "stroke": "#2f5597", "strokeWidth": 0.8},
      "encoding": {
       "x": {"field": "g", "type": "nominal", "axis": {"title": null, "labelAngle": 0, "ticks": false, "labelPadding": 9}},
       "xOffset": {"field": "s", "type": "quantitative", "scale": {"domain": [-1, 1], "range": [-5.5, 5.5]}},
       "y": {"field": "v", "type": "quantitative", "scale": {"domain": [-10, 10], "range": [171, 122], "nice": false, "zero": false}, "axis": {"orient": "left", "title": null, "values": [-10,-5,0,5,10], "labelExpr": "datum.value == 0 || datum.value == 10 ? toString(datum.value) : ''", "tickSize": 7, "labelPadding": 3}},
       "fill": {"field": "ag", "type": "nominal", "scale": {"domain": ["Enkephalin", "DAMGO", "Dala Dleu"], "range": ["#2f5597", "#7f98cc", "#ffffff"]}, "legend": null}
      }},
     {"data": {"values": [{"g": "Typical", "v": 0.4}]}, "mark": {"type": "tick", "color": "#111", "size": 80, "thickness": 3, "opacity": 1}, "encoding": {"x": {"field": "g", "type": "nominal"}, "y": {"field": "v", "type": "quantitative"}}}
   ]},
   {"data": {"values": [{"ag": "Enkephalin"}, {"ag": "DAMGO"}, {"ag": "Dala Dleu"}]}, "mark": {"type": "point", "filled": true, "opacity": 0},
    "encoding": {"fill": {"field": "ag", "type": "nominal", "scale": {"domain": ["Enkephalin", "DAMGO", "Dala Dleu"], "range": ["#111111", "#555555", "#ffffff"]}, "legend": {"title": null, "orient": "none", "legendX": 13, "legendY": 5, "symbolType": "circle", "symbolSize": 25, "symbolOpacity": 1, "symbolStrokeColor": "#111", "symbolStrokeWidth": 1, "labelFontSize": 10, "labelOffset": 4, "rowPadding": 4}}}}
  ]
 },
 {
  "width": 160, "height": 176,
  "data": {"name": "barsC"},
  "resolve": {"axis": {"x": "independent"}},
  "layer": [
   {"mark": {"type": "bar"}, "encoding": {
     "x": {"field": "k", "type": "nominal", "scale": {"type": "band", "domain": ["Typical|cont", "Typical|Enk", "gap", "Atypical|cont", "Atypical|Enk"], "range": [3, 160], "paddingInner": 0.2, "paddingOuter": 0.6}, "axis": {"orient": "bottom", "title": null, "labelAngle": 0, "offset": 3, "tickSize": 6, "tickOpacity": {"condition": {"test": "datum.value == 'gap'", "value": 1}, "value": 0}, "labelPadding": 0, "labelExpr": "datum.value == 'gap' ? '' : split(datum.value, '|')[1]"}},
     "y": {"field": "m", "type": "quantitative", "scale": {"domain": [0, 1200], "nice": false}, "axis": {"title": "Input resistance (MΩ)", "values": [0,50,100,150,200,250,300,350,400,450,500,550,600,650,700,750,800,850,900,950,1000,1050,1100,1150,1200], "labelExpr": "datum.value % 400 == 0 ? toString(datum.value) : ''", "tickSize": 6, "labelPadding": 6, "titleX": -47, "titleBaseline": "middle"}},
     "color": {"field": "grp", "type": "nominal", "scale": {"domain": ["Typical", "Atypical"], "range": ["#2d4e8c", "#b22329"]}, "legend": null}}},
   {"mark": {"type": "rule", "color": "#111", "strokeWidth": 1.5}, "encoding": {
     "x": {"field": "k", "type": "nominal", "axis": {"orient": "bottom", "title": null, "labelAngle": 0, "offset": 3, "ticks": false, "domain": false, "labelPadding": 24, "labelOffset": 13.1, "labelExpr": "datum.value == 'Typical|cont' ? 'Typical' : datum.value == 'Atypical|cont' ? 'Atypical' : ''"}},
     "y": {"field": "m", "type": "quantitative"}, "y2": {"field": "hi"}}},
   {"mark": {"type": "tick", "color": "#111", "thickness": 1.5, "size": 6, "opacity": 1}, "encoding": {"x": {"field": "k", "type": "nominal", "axis": null}, "y": {"field": "hi", "type": "quantitative"}}},
   {"data": {"values": [{"k": "Atypical|cont", "y": 509, "o": 1}, {"k": "Atypical|cont", "y": 570, "o": 2}, {"k": "Atypical|Enk", "y": 570, "o": 3}, {"k": "Atypical|Enk", "y": 355, "o": 4}]}, "mark": {"type": "line", "color": "#111", "strokeWidth": 1.5}, "encoding": {"x": {"field": "k", "type": "nominal", "axis": null}, "y": {"field": "y", "type": "quantitative"}, "order": {"field": "o", "type": "quantitative"}}},
   {"data": {"values": [{"k": "Atypical|cont", "y": 632}]}, "mark": {"type": "text", "text": "*", "fontSize": 16, "fontWeight": "bold", "baseline": "middle", "dx": 13, "dy": 5, "color": "#111"}, "encoding": {"x": {"field": "k", "type": "nominal", "axis": null}, "y": {"field": "y", "type": "quantitative"}}}
  ]
 }
]
}
